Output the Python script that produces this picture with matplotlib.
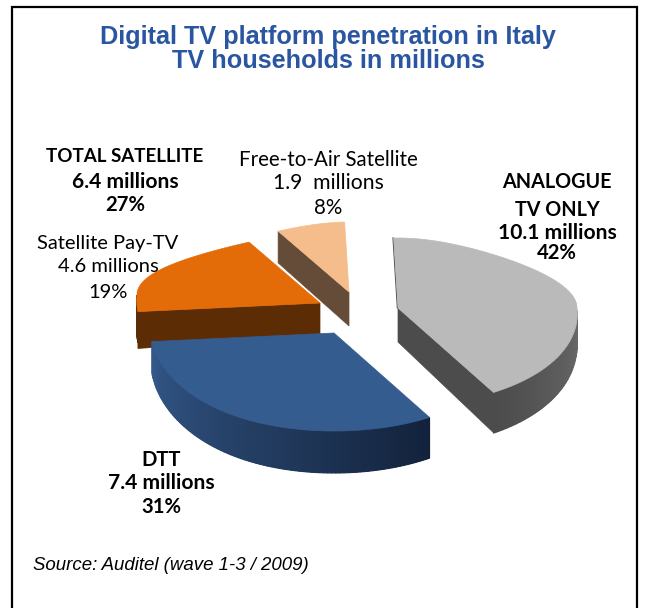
import numpy as np
import matplotlib
matplotlib.use('Agg')
import matplotlib.pyplot as plt
from matplotlib.colors import to_rgb
from matplotlib.patches import Polygon, Rectangle

# millions of TV households, clockwise from the top
categories = ['Analogue', 'DTT', 'Satellite Pay-TV', 'Free-to-Air Satellite']
values = [10.1, 7.4, 4.6, 1.9]
top_colors = ['#bababa', '#355c8f', '#e36c09', '#f6bd8c']
face_colors = ['#4c4c4c', '#14233c', '#5c2d05', '#654c39']
wall_from = ['#6c6c6c', '#13223b', '#5c2d05', '#654c39']
wall_to = ['#4c4c4c', '#34598a', '#5c2d05', '#654c39']
# apex of each exploded slice, in pixels
centers = [(398, 308), (334, 333), (320, 303), (349, 292)]
cut_side = ['end', None, 'start', 'start']
draw_order = [3, 2, 0, 1]

START = -2
W, H = 647, 608

plt.rcParams['font.family'] = ['Liberation Sans']
fig = plt.figure(figsize=(W / 100, H / 100), dpi=100)
ax = fig.add_axes([0, 0, 1, 1])
ax.set_xlim(0, W)
ax.set_ylim(H, 0)
ax.axis('off')
# frame runs off the bottom of the picture
ax.add_patch(Rectangle((12, 7), 625, H + 20, fc='white', ec='black', lw=1.6))


def rim(center, theta, drop=0.0):
    # fake perspective: back half narrower and flatter than the front
    t = np.radians(theta)
    c, s = np.cos(t), np.sin(t)
    a = 179 * (1 - 0.3 * c * c) if c > 0 else 179 * (1 - 0.06 * c)
    b = 70 if c > 0 else 98
    # left side of the pie leans up and out a little
    lean = max(-s, 0) ** 4
    return center[0] + a * s - 4 * lean, center[1] - b * c - 8 * lean + drop


def wall_depth(theta):
    return 24 + 18 * np.sqrt(max(-np.cos(np.radians(theta)), 0))


def face_depth(theta):
    return 36 - 5 * np.cos(np.radians(theta))


shares = np.array(values) / sum(values) * 360
starts = START + np.concatenate([[0], np.cumsum(shares)[:-1]])


def draw_slice(i, z):
    c = centers[i]
    t0, t1 = starts[i], starts[i] + shares[i]

    if cut_side[i]:
        t = t1 if cut_side[i] == 'end' else t0
        face = [c, rim(c, t), rim(c, t, face_depth(t)), (c[0], c[1] + 34)]
        ax.add_patch(Polygon(face, fc=face_colors[i], ec=face_colors[i], lw=0.5, zorder=z))

    # outer wall, front half only, shaded in strips over a solid base
    arc = np.linspace(t0, t1, 90)
    front = arc[np.cos(np.radians(arc)) < 0]
    if len(front) > 1:
        c0, c1 = np.array(to_rgb(wall_from[i])), np.array(to_rgb(wall_to[i]))
        base = [rim(c, t) for t in front] + [rim(c, t, wall_depth(t)) for t in front[::-1]]
        ax.add_patch(Polygon(base, fc=(c0 + c1) / 2, ec='none', zorder=z))
        for j in range(len(front) - 1):
            col = c0 + (c1 - c0) * j / max(len(front) - 2, 1)
            strip = [rim(c, front[j]), rim(c, front[j + 1]),
                     rim(c, front[j + 1], wall_depth(front[j + 1])), rim(c, front[j], wall_depth(front[j]))]
            ax.add_patch(Polygon(strip, fc=col, ec=col, lw=0.8, zorder=z))

    top = [c] + [rim(c, t) for t in arc]
    ax.add_patch(Polygon(top, fc=top_colors[i], ec=top_colors[i], lw=0.5, zorder=z + 0.5))


for z, i in enumerate(draw_order):
    draw_slice(i, z + 2)

# thin dark edge on the left of the grey slice
p = rim(centers[0], starts[0])
ax.plot([p[0] - 0.5, centers[0][0] - 0.5], [p[1], centers[0][1]], color='#4c4c4c', lw=1, zorder=3.5)


def block(x, lines, bold=False):
    for text, y, size in lines:
        ax.text(x, y, text, ha='center', va='center', fontsize=size, family='Lato',
                fontweight='bold' if bold else 'normal', zorder=8)


ax.text(328, 49, 'Digital TV platform penetration in Italy\nTV households in millions', ha='center', va='center',
        fontsize=18.2, fontweight='bold', color='#2a55a0', linespacing=1.05)

block(125, [('TOTAL SATELLITE', 157, 13.5), ('6.4 millions', 182, 15.1), ('27%', 205, 14.6)], bold=True)
block(328.5, [('Free-to-Air Satellite', 160, 14.8), ('1.9  millions', 183, 15.2), ('8%', 208, 14.8)])
block(108, [('Satellite Pay-TV', 244, 14.5), ('4.6 millions', 267, 14.5), ('19%', 293, 14.5)])
block(557, [('ANALOGUE', 182, 14.2), ('TV ONLY', 210, 14.2), ('10.1 millions', 233, 15.1), ('42%', 253, 14.6)], bold=True)
block(161, [('DTT', 460, 14.6), ('7.4 millions', 483, 15.1), ('31%', 507, 14.6)], bold=True)

ax.text(33, 565, 'Source: Auditel (wave 1-3 / 2009)', ha='left', va='center', fontsize=13.4, style='italic')

fig.savefig('out.png', dpi=100)
